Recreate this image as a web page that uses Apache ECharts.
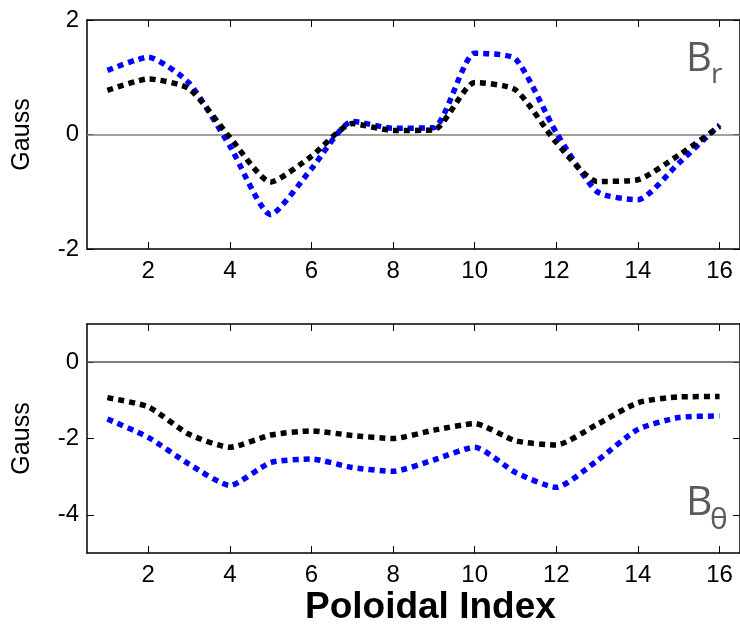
<!DOCTYPE html>
<html>
<head>
<meta charset="utf-8">
<script src="https://cdn.jsdelivr.net/npm/echarts@6/dist/echarts.min.js"></script>
<style>
  html, body { margin: 0; padding: 0; background: #fff; }
  #chart { width: 740px; height: 624px; }
</style>
</head>
<body>
<div id="chart"></div>
<script>
// Poloidal index positions around the machine
const poloidalIndex = [1, 2, 3, 4, 5, 6, 7, 8, 9, 10, 11, 12, 13, 14, 15, 16];
const xTickValues = [2, 4, 6, 8, 10, 12, 14, 16];

// Radial field B_r (Gauss)
const brBlack = [0.77, 0.97, 0.80, -0.05, -0.83, -0.38, 0.19, 0.07, 0.08, 0.91, 0.78, -0.14, -0.82, -0.79, -0.36, 0.14];
const brBlue  = [1.12, 1.35, 0.90, -0.20, -1.40, -0.60, 0.23, 0.11, 0.12, 1.42, 1.32, 0.03, -1.00, -1.14, -0.50, 0.17];

// Poloidal field B_theta (Gauss)
const btBlack = [-0.93, -1.17, -1.89, -2.23, -1.91, -1.80, -1.92, -2.00, -1.78, -1.61, -2.06, -2.17, -1.63, -1.06, -0.91, -0.90];
const btBlue  = [-1.49, -1.97, -2.67, -3.23, -2.63, -2.54, -2.76, -2.86, -2.56, -2.23, -2.89, -3.28, -2.58, -1.76, -1.45, -1.41];

const brTicks = [-2, 0, 2];
const btTicks = [-4, -2, 0];

const FONT = '"Liberation Sans", Arial, sans-serif';
const pair = (ys) => poloidalIndex.map((x, i) => [x, ys[i]]);

const chart = echarts.init(document.getElementById('chart'), null, { renderer: 'canvas' });

const frameLine = { show: true, onZero: false, lineStyle: { color: '#000', width: 1.5 } };
const innerTick = (vals) => ({ show: true, inside: true, length: 7, customValues: vals, lineStyle: { color: '#000', width: 1 } });

function xAxes(gridIndex) {
  return [
    {
      type: 'value', gridIndex, position: 'bottom', min: 0.5, max: 16.5,
      axisLine: frameLine, axisTick: innerTick(xTickValues),
      axisLabel: { customValues: xTickValues, color: '#000', fontSize: 24, fontFamily: FONT, margin: 10 },
      splitLine: { show: false }
    },
    {
      type: 'value', gridIndex, position: 'top', min: 0.5, max: 16.5,
      axisLine: frameLine, axisTick: innerTick(xTickValues),
      axisLabel: { show: false }, splitLine: { show: false }
    }
  ];
}

function yAxes(gridIndex, min, max, ticks) {
  return [
    {
      type: 'value', gridIndex, position: 'left', min, max,
      name: 'Gauss', nameLocation: 'middle', nameGap: 52, nameRotate: 90,
      nameTextStyle: { color: '#000', fontSize: 25, fontFamily: FONT },
      axisLine: frameLine, axisTick: innerTick(ticks),
      axisLabel: { customValues: ticks, color: '#000', fontSize: 24, fontFamily: FONT, margin: 8 },
      splitLine: { show: false }
    },
    {
      type: 'value', gridIndex, position: 'right', min, max,
      axisLine: frameLine, axisTick: innerTick(ticks),
      axisLabel: { show: false }, splitLine: { show: false }
    }
  ];
}

const dotted = (color) => ({ color, width: 5.5, type: [6, 5], cap: 'butt' });

function curve(name, data, xi, yi, color, withZero, zeroColor) {
  const s = {
    name, type: 'line', xAxisIndex: xi, yAxisIndex: yi, data: pair(data),
    smooth: 0.2, showSymbol: false, symbol: 'none',
    lineStyle: dotted(color), itemStyle: { color }, silent: true, z: 3
  };
  if (withZero) {
    s.markLine = {
      silent: true, symbol: 'none', label: { show: false },
      lineStyle: { color: zeroColor, width: 1.5, type: 'solid' },
      data: [{ yAxis: 0 }], z: 1
    };
  }
  return s;
}

const option = {
  backgroundColor: '#fff',
  animation: false,
  grid: [
    { left: 87, top: 20, width: 655, height: 229 },
    { left: 87, top: 324, width: 655, height: 229 }
  ],
  xAxis: [...xAxes(0), ...xAxes(1)],
  yAxis: [...yAxes(0, -2, 2, brTicks), ...yAxes(1, -5, 1, btTicks)],
  series: [
    curve('B_r blue', brBlue, 0, 0, '#0000ff', true, '#808080'),
    curve('B_r black', brBlack, 0, 0, '#000000', false),
    curve('B_theta blue', btBlue, 2, 2, '#0000ff', true, '#555555'),
    curve('B_theta black', btBlack, 2, 2, '#000000', false)
  ],
  graphic: [
    { type: 'text', left: 686, top: 40, style: { text: 'B', fontSize: 40, fontFamily: '"Open Sans", sans-serif', fill: '#5a5a5a' } },
    { type: 'text', left: 711, top: 61, style: { text: 'r', fontSize: 28, fontFamily: '"Open Sans", sans-serif', fill: '#5a5a5a' } },
    { type: 'text', left: 686, top: 483, style: { text: 'B', fontSize: 41, fontFamily: '"Open Sans", sans-serif', fill: '#5a5a5a' } },
    { type: 'text', left: 710, top: 505, style: { text: 'θ', fontSize: 30, fontFamily: '"Open Sans", sans-serif', fill: '#5a5a5a' } },
    { type: 'text', left: 305, top: 589, style: { text: 'Poloidal Index', fontSize: 37, fontWeight: 'bold', fontFamily: FONT, fill: '#000' } }
  ]
};

chart.setOption(option);
</script>
</body>
</html>
